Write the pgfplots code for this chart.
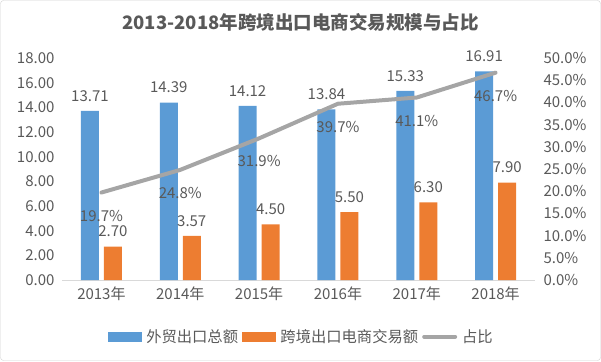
\documentclass[border=0pt]{standalone}
\usepackage{pgfplots}
\pgfplotsset{compat=1.18}
\usepackage{fontspec}
\setmainfont{Noto Sans CJK SC}
\definecolor{cblue}{HTML}{5B9BD5}
\definecolor{corange}{HTML}{ED7D31}
\definecolor{cgray}{HTML}{A5A5A5}
\definecolor{ctext}{HTML}{595959}
\newcommand{\lblfont}{\fontsize{15}{18}\selectfont}
\begin{document}
\begin{tikzpicture}
\useasboundingbox (0pt,0pt) rectangle (601pt,361pt);
\draw[black!18, rounded corners=3pt] (0.5pt,0.5pt) rectangle (600.5pt,360.5pt);
\node[font=\fontsize{18.5}{22}\selectfont\bfseries, text=ctext] at (300.5pt,339pt) {2013-2018年跨境出口电商交易规模与占比};
\begin{axis}[
  at={(62pt,81pt)}, anchor=south west, scale only axis,
  width=473pt, height=222pt,
  ybar=5pt, bar width=18pt,
  xmin=-0.5, xmax=5.5, ymin=0, ymax=18,
  ytick={0,2,...,18},
  xtick={0,...,5},
  xticklabels={2013年,2014年,2015年,2016年,2017年,2018年},
  axis x line*=bottom, axis y line*=left,
  x axis line style={draw=black!15, line width=0.8pt},
  y axis line style={draw=none},
  major tick length=0pt,
  /pgf/number format/assume math mode=true,
  yticklabel={\pgfmathprintnumber[fixed,fixed zerofill,precision=2,assume math mode=true]{\tick}},
  every tick label/.append style={font=\lblfont, text=ctext},
  yticklabel style={xshift=-4pt},
  xticklabel style={yshift=-3pt},
  nodes near coords={\pgfmathprintnumber[fixed,fixed zerofill,precision=2,assume math mode=true]{\pgfplotspointmeta}},
  nodes near coords style={font=\lblfont, text=ctext, anchor=south, yshift=6pt},
]
\addplot[fill=cblue, draw=none] coordinates {(0,13.71) (1,14.39) (2,14.12) (3,13.84) (4,15.33) (5,16.91)};
\addplot[fill=corange, draw=none] coordinates {(0,2.70) (1,3.57) (2,4.50) (3,5.50) (4,6.30) (5,7.90)};
\end{axis}
\begin{axis}[
  at={(62pt,81pt)}, anchor=south west, scale only axis,
  width=473pt, height=222pt,
  xmin=-0.5, xmax=5.5, ymin=0, ymax=50,
  ytick={0,5,...,50},
  axis y line*=right, axis x line=none,
  y axis line style={draw=none},
  major tick length=0pt,
  /pgf/number format/assume math mode=true,
  yticklabel={\pgfmathprintnumber[fixed,fixed zerofill,precision=1,assume math mode=true]{\tick}\%},
  every tick label/.append style={font=\lblfont, text=ctext},
  yticklabel style={anchor=west, xshift=5pt},
  legend columns=3,
  legend style={draw=none, fill=none, at={(0.506,-0.255)}, anchor=center,
    font=\fontsize{15.3}{18}\selectfont, text=ctext,
    /tikz/every odd column/.append style={column sep=3pt},
    /tikz/every even column/.append style={column sep=2pt}},
]
\addlegendimage{legend image code/.code={\fill[cblue] (0pt,-4.5pt) rectangle (33pt,4.5pt);}}
\addlegendentry{外贸出口总额}
\addlegendimage{legend image code/.code={\fill[corange] (0pt,-4.5pt) rectangle (33pt,4.5pt);}}
\addlegendentry{跨境出口电商交易额}
\addlegendimage{legend image code/.code={\draw[cgray, line width=4pt, line cap=round] (2pt,0pt) -- (33pt,0pt);}}
\addlegendentry{占比}
\addplot[cgray, line width=4pt, mark=none, forget plot, line cap=round, line join=round,
  nodes near coords={\pgfmathprintnumber[fixed,fixed zerofill,precision=1,assume math mode=true]{\pgfplotspointmeta}\%},
  nodes near coords style={font=\lblfont, text=ctext, anchor=north, yshift=-12pt}]
  coordinates {(0,19.7) (1,24.8) (2,31.9) (3,39.7) (4,41.1) (5,46.7)};
\end{axis}
\end{tikzpicture}
\end{document}
